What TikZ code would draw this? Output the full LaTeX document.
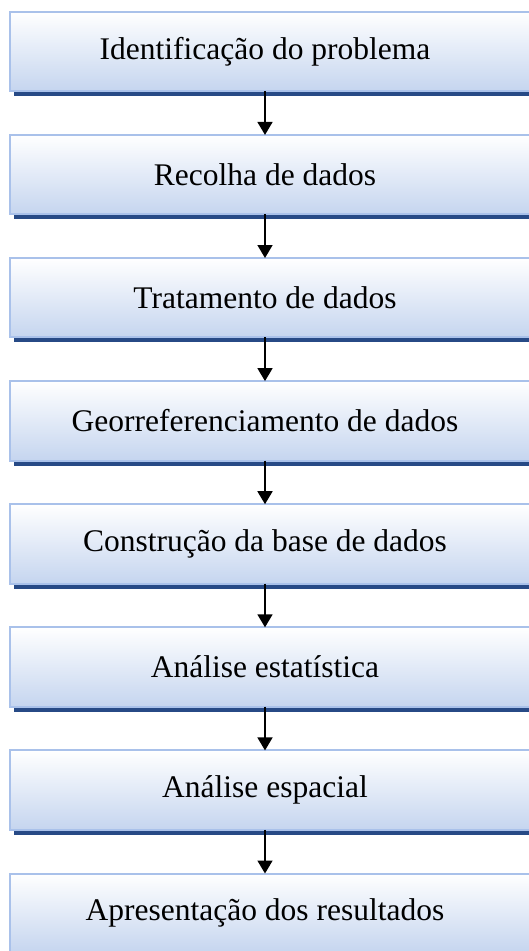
\documentclass[tikz,border=0pt]{standalone}
\usepackage{fontspec}
\setmainfont{Liberation Serif}
\usetikzlibrary{positioning,arrows.meta,backgrounds,calc}
\definecolor{boxline}{HTML}{A9C1EA}
\definecolor{boxfill}{HTML}{C5D5EF}
\definecolor{boxshadow}{HTML}{274A86}
\tikzset{
  etapa/.style={minimum width=510pt, minimum height=79pt, inner sep=0pt,
    font=\fontsize{31.5}{36}\selectfont},
  seta/.style={line width=1.7pt, -{Triangle[width=15pt,length=13pt]}}
}
\begin{document}
\begin{tikzpicture}
  \useasboundingbox (0,0) rectangle (528pt,-951pt);
  % etapas
  \node[etapa] (e1) at (265pt,-51.5pt) {Identificação do problema};
  \node[etapa, below=43.7pt of e1] (e2) {Recolha de dados};
  \node[etapa, below=43.7pt of e2] (e3) {Tratamento de dados};
  \node[etapa, below=43.7pt of e3] (e4) {Georreferenciamento de dados};
  \node[etapa, below=43.7pt of e4] (e5) {Construção da base de dados};
  \node[etapa, below=43.7pt of e5] (e6) {Análise estatística};
  \node[etapa, below=43.7pt of e6] (e7) {Análise espacial};
  \node[etapa, below=43.7pt of e7] (e8) {Apresentação dos resultados};
  % setas
  \foreach \i [count=\j from 2] in {1,...,7}
    \draw[seta] (e\i.south) -- (e\j.north);
  % caixas
  \begin{scope}[on background layer]
    \foreach \i in {1,...,8} {
      \fill[boxshadow] ($(e\i.south west)+(4pt,-5pt)$) rectangle ($(e\i.north east)+(30pt,-5pt)$);
      \shadedraw[top color=white, bottom color=boxfill, draw=boxline, line width=2pt]
        (e\i.south west) rectangle ($(e\i.north east)+(20pt,0)$);
    }
  \end{scope}
\end{tikzpicture}
\end{document}
